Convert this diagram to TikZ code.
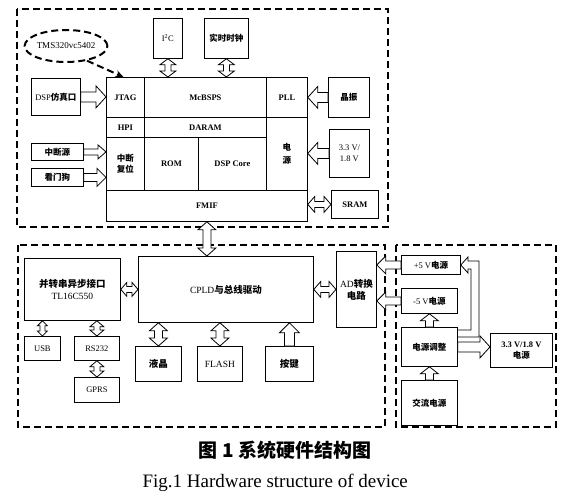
\documentclass[tikz,border=0pt]{standalone}
\usepackage{fontspec}
\setmainfont{Liberation Serif}
\newfontfamily\cjk{Noto Sans CJK SC}
\usetikzlibrary{calc,arrows.meta,shapes.geometric}
\newcommand\zh[1]{{\cjk\bfseries #1}}
\tikzset{
  box/.style={draw, line width=0.8pt, inner sep=0pt, align=center, anchor=north west,
    font=\fontsize{8.5}{10.5}\selectfont},
  bbox/.style={box, font=\bfseries\fontsize{8.5}{10.5}\selectfont},
  big/.style={font=\fontsize{9.5}{12}\selectfont},
  grp/.style={line width=2pt, dash pattern=on 7pt off 4pt},
  blk/.style={draw, fill=white, line width=0.8pt, line join=miter},
}
% box by corners: [opts]{name}{x1}{y1}{x2}{y2}{text}
\newcommand\bx[7][]{\node[box,minimum width={(#5-#3)*1pt},minimum height={(#6-#4)*1pt},#1] (#2) at (#3,#4) {#7};}
% single hollow arrow: from, to, half shaft, half head, head length
\newcommand\sarr[5]{%
  \coordinate (tA) at (#1); \coordinate (tB) at (#2);
  \coordinate (tQ) at ($(tB)!#5pt!(tA)$);
  \draw[blk] ($(tA)!#3pt!90:(tB)$) -- ($(tQ)!#3pt!-90:(tA)$) -- ($(tQ)!#4pt!-90:(tA)$) -- (tB)
    -- ($(tQ)!#4pt!90:(tA)$) -- ($(tQ)!#3pt!90:(tA)$) -- ($(tA)!#3pt!-90:(tB)$) -- cycle;}
% double hollow arrow
\newcommand\darr[5]{%
  \coordinate (tA) at (#1); \coordinate (tB) at (#2);
  \coordinate (tP) at ($(tA)!#5pt!(tB)$);
  \coordinate (tQ) at ($(tB)!#5pt!(tA)$);
  \draw[blk] (tA) -- ($(tP)!#4pt!-90:(tB)$) -- ($(tP)!#3pt!-90:(tB)$) -- ($(tQ)!#3pt!90:(tA)$)
    -- ($(tQ)!#4pt!90:(tA)$) -- (tB) -- ($(tQ)!#4pt!-90:(tA)$) -- ($(tQ)!#3pt!-90:(tA)$)
    -- ($(tP)!#3pt!90:(tB)$) -- ($(tP)!#4pt!90:(tB)$) -- cycle;}
\begin{document}
\begin{tikzpicture}[x=1pt,y=-1pt]
\useasboundingbox (0,0) rectangle (567,503);
% group frames
\draw[grp] (17,9) rectangle (388,227);
\draw[grp] (18,245) rectangle (385,427);
\draw[grp] (396,245) rectangle (556,427);

% DSP block
\bx[bbox]{jtag}{106}{77}{144}{117}{JTAG}
\bx[bbox]{mcbsp}{144}{77}{266}{117}{McBSPS}
\bx[bbox]{pll}{266}{77}{307}{117}{PLL}
\bx[bbox]{hpi}{106}{117}{144}{137}{HPI}
\bx[bbox]{daram}{144}{117}{266}{137}{DARAM}
\bx{pwr}{266}{117}{307}{190}{\zh{电}\\[2pt]\zh{源}}
\bx{zdfw}{106}{137}{144}{190}{\zh{中断}\\\zh{复位}}
\bx[bbox]{rom}{144}{137}{198}{190}{ROM}
\bx[bbox]{core}{198}{137}{266}{190}{DSP Core}
\bx[bbox]{fmif}{106}{190}{307}{221}{FMIF}

% peripherals of DSP
\bx{i2c}{153}{18}{182}{58}{I\textsuperscript{2}C}
\bx{rtc}{204}{18}{248}{58}{\zh{实时时钟}}
\bx{dspemu}{31}{78}{80}{115}{DSP\zh{仿真口}}
\bx{isrc}{31}{143}{83}{160}{\zh{中断源}}
\bx{wdog}{31}{168}{83}{186}{\zh{看门狗}}
\bx{xtal}{328}{77}{369}{117}{\zh{晶振}}
\bx{vdsp}{329}{129}{369}{177}{3.3 V/\\1.8 V}
\bx[bbox]{sram}{331}{190}{378}{218}{SRAM}

\node[ellipse, draw, grp, minimum width=76pt, minimum height=32pt, inner sep=0pt,
  font=\fontsize{9}{10}\selectfont] (tms) at (66,46) {TMS320vc5402};
\draw[grp, -{Stealth[length=8pt,width=7pt]}] (tms.-35) -- ([xshift=-2pt]jtag.north);

\darr{i2c.south}{i2c.south |- mcbsp.north}{3}{8}{6}
\darr{rtc.south}{rtc.south |- mcbsp.north}{3}{8}{6}
\sarr{dspemu.east}{jtag.west |- dspemu.east}{5}{11}{10}
\sarr{isrc.east}{zdfw.west |- isrc.east}{3}{7}{8}
\sarr{wdog.east}{zdfw.west |- wdog.east}{4}{9}{9}
\sarr{xtal.west}{pll.east |- xtal.west}{5}{11}{10}
\sarr{vdsp.west}{pwr.east |- vdsp.west}{5}{11}{10}
\darr{fmif.east |- sram.west}{sram.west}{3}{8}{7}

% lower-left group
\bx[big]{sc}{24}{258}{120}{320}{\zh{并转串异步接口}\\TL16C550}
\bx[big]{cpld}{138}{256}{313}{322}{CPLD\zh{与总线驱动}}
\bx[big]{ad}{336}{251}{376}{327}{AD\zh{转换}\\\zh{电路}}
\bx{usb}{24}{336}{60}{360}{USB}
\bx{rs}{74}{336}{119}{360}{RS232}
\bx{gprs}{74}{377}{119}{402}{GPRS}
\bx[big]{lcd}{135}{346}{181}{381}{\zh{液晶}}
\bx[big]{flash}{197}{346}{242}{381}{FLASH}
\bx[big]{key}{265}{346}{313}{381}{\zh{按键}}

\darr{fmif.south}{fmif.south |- cpld.north}{4}{9}{8}
\darr{sc.east}{cpld.west |- sc.east}{3}{7}{6}
\darr{cpld.east}{ad.west |- cpld.east}{3}{8}{7}
\darr{usb.north}{usb.north |- sc.south}{2.5}{5}{5}
\darr{rs.north}{rs.north |- sc.south}{3}{7}{6}
\darr{rs.south}{gprs.north}{3}{7}{6}
\darr{lcd.north}{lcd.north |- cpld.south}{4}{9}{8}
\darr{flash.north}{flash.north |- cpld.south}{4}{9}{8}
\sarr{key.north}{key.north |- cpld.south}{5}{10}{10}

% power group
\bx{p5}{401}{255}{460}{274}{+5 V\zh{电源}}
\bx{m5}{401}{288}{457}{313}{-5 V\zh{电源}}
\bx{adj}{401}{327}{457}{366}{\zh{电源调整}}
\bx[bbox]{v33}{490}{333}{552}{367}{3.3 V/1.8 V\\\zh{电源}}
\bx{ac}{401}{380}{457}{425}{\zh{交流电源}}

\sarr{p5.west}{ad.east |- p5.west}{4}{9}{9}
\sarr{m5.west}{ad.east |- m5.west}{4}{9}{9}
\sarr{ac.north}{ac.north |- adj.south}{4}{9}{7}
\sarr{adj.north}{adj.north |- m5.south}{4}{9}{7}
\sarr{adj.east}{v33.west |- adj.east}{5}{11}{10}
\draw[line width=0.8pt, line join=miter]
  (adj.east |- 0,337) -- (479,337) -- (479,261) -- (468,261) -- (468,257) -- (p5.east |- 0,265)
  -- (468,273) -- (468,269) -- (471,269) -- (471,330) -- (adj.east |- 0,330);

% captions
\node[font=\cjk\bfseries\fontsize{19}{21}\selectfont] (cap1) at (285,450) {图 1 系统硬件结构图};
\node[font=\fontsize{19}{21}\selectfont, anchor=west] (cap2) at (139,483) {Fig.1 Hardware structure of device};
\end{tikzpicture}
\end{document}
